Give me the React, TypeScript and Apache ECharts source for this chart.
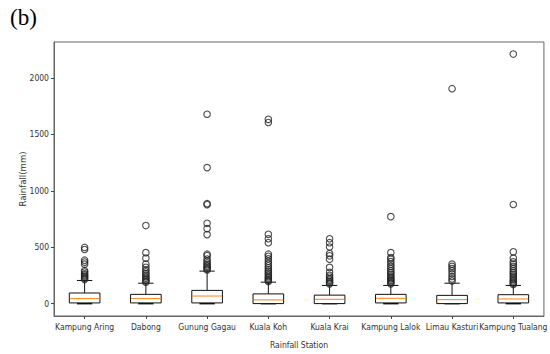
import React, { useEffect, useRef } from "react";
import * as echarts from "echarts";

// Rainfall stations (x categories)
const stations = [
  "Kampung Aring",
  "Dabong",
  "Gunung Gagau",
  "Kuala Koh",
  "Kuala Krai",
  "Kampung Lalok",
  "Limau Kasturi",
  "Kampung Tualang",
];

// Box statistics per station: [lower whisker, Q1, median, Q3, upper whisker] in mm
const boxStats: number[][] = [
  [0, 6, 44, 94, 205],
  [0, 6, 44, 82, 181],
  [0, 6, 67, 117, 288],
  [0, 0, 33, 86, 190],
  [0, 0, 38, 75, 161],
  [0, 6, 47, 82, 161],
  [0, 0, 35, 73, 181],
  [0, 6, 41, 79, 161],
];

// Outliers (fliers) per station, mm
const outliers: number[][] = [
  [215, 225, 235, 245, 255, 265, 280, 292, 350, 368, 385, 480, 498],
  [190, 200, 212, 225, 238, 252, 266, 282, 300, 322, 350, 403, 452, 692],
  [298, 308, 320, 332, 345, 360, 378, 395, 425, 438, 612, 665, 712, 878, 886, 1206, 1679],
  [196, 205, 215, 228, 240, 255, 270, 285, 300, 318, 335, 355, 375, 398, 420, 438, 540, 575, 615, 1606, 1634],
  [175, 185, 196, 208, 220, 235, 251, 277, 321, 394, 424, 444, 502, 540, 575],
  [175, 185, 195, 206, 218, 230, 245, 260, 275, 290, 310, 330, 350, 372, 395, 409, 452, 771],
  [200, 219, 240, 265, 290, 310, 330, 350, 1906],
  [170, 180, 190, 202, 215, 230, 245, 260, 275, 290, 310, 330, 350, 370, 403, 459, 879, 2213],
];

// Y axis ticks (mm)
const yTicks = [0, 500, 1000, 1500, 2000];
const yMin = -110;
const yMax = 2320;

const tickFont = "DejaVu Sans Condensed, DejaVu Sans, sans-serif";

export default function App() {
  const ref = useRef<HTMLDivElement>(null);

  useEffect(() => {
    if (!ref.current) return;
    const chart = echarts.init(ref.current, undefined, { renderer: "svg" });

    const boxData = boxStats.map((s, i) => [i, ...s]);
    const flierData: number[][] = [];
    outliers.forEach((list, i) => list.forEach((v) => flierData.push([i, v])));

    chart.setOption({
      animation: false,
      backgroundColor: "#ffffff",
      title: {
        text: "(b)",
        left: 5,
        top: 1,
        textStyle: {
          fontFamily: "Liberation Serif, serif",
          fontSize: 23,
          fontWeight: "normal",
          color: "#000",
        },
      },
      grid: {
        left: 54,
        right: -1,
        top: 42,
        bottom: 35,
        show: true,
        borderColor: "#666",
        borderWidth: 1,
        containLabel: false,
      },
      xAxis: {
        type: "category",
        data: stations,
        boundaryGap: true,
        name: "Rainfall Station",
        nameLocation: "middle",
        nameGap: 24,
        nameMoveOverlap: false,
        nameTextStyle: { fontFamily: tickFont, fontSize: 8.5, color: "#333" },
        axisLine: { show: true, onZero: false, lineStyle: { color: "#666", width: 1 } },
        axisTick: { show: true, alignWithLabel: true, length: 3, lineStyle: { color: "#444" } },
        axisLabel: {
          margin: 6,
          fontFamily: tickFont,
          fontSize: 8.5,
          color: "#333",
          interval: 0,
        },
        splitLine: { show: false },
      },
      yAxis: {
        type: "value",
        min: yMin,
        max: yMax,
        name: "Rainfall(mm)",
        nameLocation: "middle",
        nameRotate: 90,
        nameGap: 27,
        nameMoveOverlap: false,
        nameTextStyle: { fontFamily: tickFont, fontSize: 9.5, color: "#333" },
        axisLine: { show: true, lineStyle: { color: "#666", width: 1 } },
        axisTick: {
          show: true,
          length: 3,
          customValues: yTicks,
          lineStyle: { color: "#444" },
        },
        axisLabel: {
          margin: 5,
          fontFamily: tickFont,
          fontSize: 8.5,
          color: "#333",
          customValues: yTicks,
          formatter: (v: number) => String(v),
        },
        splitLine: { show: false },
      },
      series: [
        {
          type: "custom",
          name: "box",
          data: boxData,
          encode: { x: 0, y: [1, 2, 3, 4, 5] },
          z: 2,
          renderItem: (params: any, api: any) => {
            const idx = api.value(0);
            const lo = api.value(1);
            const q1 = api.value(2);
            const med = api.value(3);
            const q3 = api.value(4);
            const hi = api.value(5);
            const band = api.size([1, 0])[0];
            const w = band * 0.5;
            const cx = api.coord([idx, 0])[0];
            const y = (v: number) => api.coord([idx, v])[1];
            const stroke = { stroke: "#111", lineWidth: 1, fill: "none" };
            return {
              type: "group",
              children: [
                {
                  type: "line",
                  shape: { x1: cx, y1: y(q3), x2: cx, y2: y(hi) },
                  style: stroke,
                },
                {
                  type: "line",
                  shape: { x1: cx, y1: y(q1), x2: cx, y2: y(lo) },
                  style: stroke,
                },
                {
                  type: "line",
                  shape: { x1: cx - w / 4, y1: y(hi), x2: cx + w / 4, y2: y(hi) },
                  style: stroke,
                },
                {
                  type: "line",
                  shape: { x1: cx - w / 4, y1: y(lo), x2: cx + w / 4, y2: y(lo) },
                  style: { stroke: "#111", lineWidth: 1.6 },
                },
                {
                  type: "rect",
                  shape: { x: cx - w / 2, y: y(q3), width: w, height: y(q1) - y(q3) },
                  style: { fill: "#ffffff", stroke: "#111", lineWidth: 1 },
                },
                {
                  type: "line",
                  shape: { x1: cx - w / 2 + 0.5, y1: y(med), x2: cx + w / 2 - 0.5, y2: y(med) },
                  style: { stroke: "#ff7f0e", lineWidth: 1 },
                },
              ],
            };
          },
        },
        {
          type: "scatter",
          name: "outliers",
          data: flierData,
          symbol: "circle",
          symbolSize: 6.5,
          z: 3,
          itemStyle: {
            color: "rgba(255,255,255,0)",
            borderColor: "#222",
            borderWidth: 1.1,
          },
        },
      ],
    });

    return () => chart.dispose();
  }, []);

  return (
    <div
      ref={ref}
      style={{ position: "absolute", left: 0, top: 0, width: 550, height: 354 }}
    />
  );
}
